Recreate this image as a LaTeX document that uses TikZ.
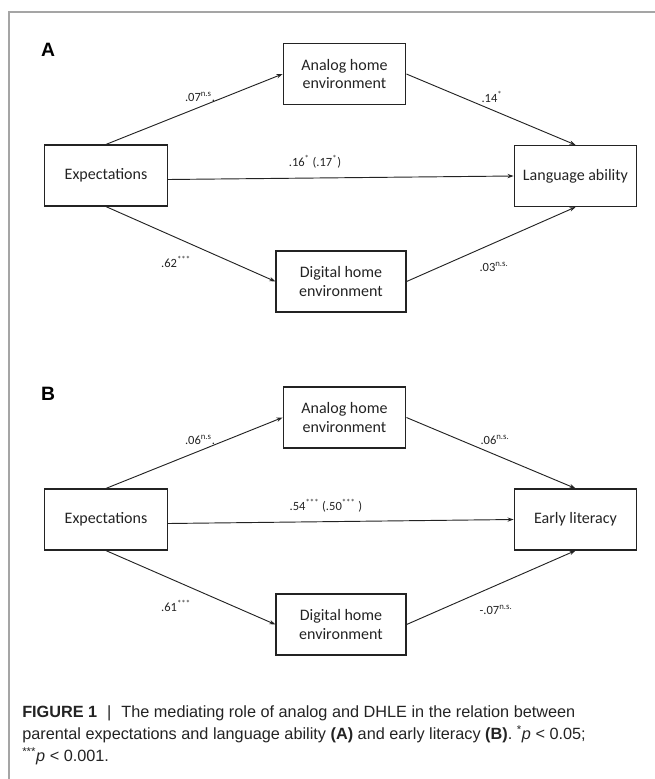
\documentclass[tikz,border=0pt]{standalone}
\usepackage{fontspec}
\setmainfont{Carlito}
\newfontfamily\capfont{Liberation Sans}
\usetikzlibrary{arrows.meta}
\definecolor{framegray}{RGB}{165,165,165}
\definecolor{inkgray}{RGB}{35,35,35}

\begin{document}
\begin{tikzpicture}[x=0.75pt,y=-0.75pt,
          box/.style={draw=inkgray,line width=0.9pt,align=center,
            font=\fontsize{12}{14}\selectfont,text=inkgray,
            minimum width=92pt,minimum height=45.75pt,inner sep=0pt},
          coef/.style={font=\fontsize{9.4}{11}\selectfont,text=inkgray,inner sep=1pt},
          link/.style={-{Stealth[length=4.5pt,width=3.2pt]},draw=inkgray,line width=0.7pt},
          panel/.style={font=\capfont\bfseries\fontsize{14.5}{16}\selectfont},
          capnote/.style={font=\capfont\fontsize{12.2}{16.5}\selectfont,
            text=inkgray,align=left,inner sep=0pt}]

        \useasboundingbox (0,0) rectangle (655,779);
        \draw[framegray,line width=1.1pt] (655,12) -- (9,12) -- (9,779);

        % panel A
        \node[panel] (labA) at (48,50) {A};
        \node[box] (expA) at (106,175.5) {Expectations};
        \node[box] (anaA) at (344.5,74) {Analog home\\environment};
        \node[box,minimum width=97.5pt] (digA) at (341,281.5) {Digital home\\environment};
        \node[box] (langA) at (575.5,176) {Language ability};

        \draw[link] (expA.north) -- (anaA.west);
        \draw[link] (anaA.east) -- (langA.north);
        \draw[link] ([yshift=-3pt]expA.east) -- (langA.west);
        \draw[link] (expA.south) -- (digA.west);
        \draw[link] (digA.east) -- (langA.south);

        \node[coef] (cA1) at (200,97) {.07\textsuperscript{n.s}.};
        \node[coef] (cA2) at (492,97) {.14\textsuperscript{*}};
        \node[coef] (cA3) at (315,162) {.16\textsuperscript{*} (.17\textsuperscript{*})};
        \node[coef] (cA4) at (176,262) {.62\textsuperscript{***}};
        \node[coef] (cA5) at (494,267) {.03\textsuperscript{n.s.}};

        % panel B
        \node[panel] (labB) at (48,393.5) {B};
        \node[box] (expB) at (106,519.5) {Expectations};
        \node[box] (anaB) at (344.5,417.5) {Analog home\\environment};
        \node[box,minimum width=97.5pt] (digB) at (341,624.5) {Digital home\\environment};
        \node[box] (litB) at (575.5,519.5) {Early literacy};

        \draw[link] (expB.north) -- (anaB.west);
        \draw[link] (anaB.east) -- (litB.north);
        \draw[link] ([yshift=-3pt]expB.east) -- (litB.west);
        \draw[link] (expB.south) -- (digB.west);
        \draw[link] (digB.east) -- (litB.south);

        \node[coef] (cB1) at (200,440) {.06\textsuperscript{n.s}.};
        \node[coef] (cB2) at (495,440) {.06\textsuperscript{n.s.}};
        \node[coef] (cB3) at (326,505.5) {.54\textsuperscript{***} (.50\textsuperscript{***} )};
        \node[coef] (cB4) at (176,606) {.61\textsuperscript{***}};
        \node[coef] (cB5) at (496,610) {-.07\textsuperscript{n.s.}};

        % caption
        \node[capnote,anchor=base west] (cap) at (22,761)
          {\textbf{FIGURE 1}\,\, |\,\, The mediating role of analog and DHLE in the relation between\\
           parental expectations and language ability \textbf{(A)} and early literacy \textbf{(B)}. \textsuperscript{*}\textit{p} < 0.05;\\
           \textsuperscript{***}\textit{p} < 0.001.};

      \end{tikzpicture}
\end{document}
